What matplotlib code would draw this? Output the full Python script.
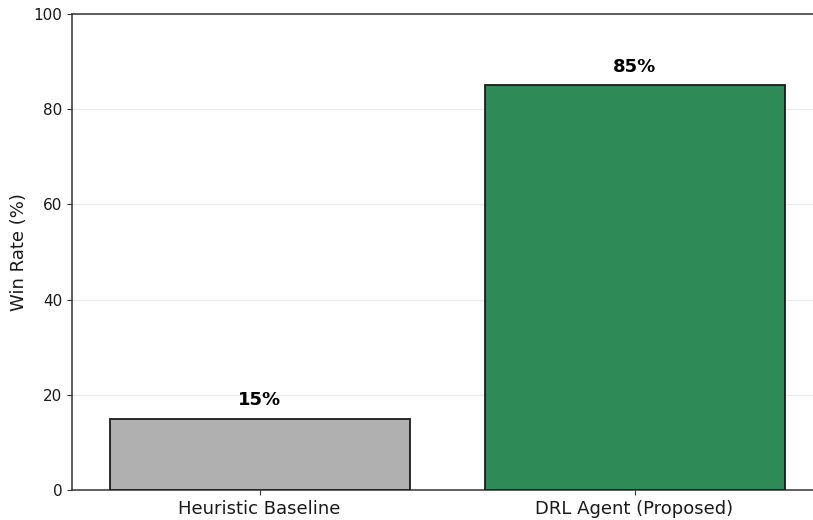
import matplotlib
matplotlib.use("Agg")
import matplotlib.pyplot as plt

categories = ["Heuristic Baseline", "DRL Agent (Proposed)"]
win_rates = [15, 85]
colors = ["#b0b0b0", "#2e8b57"]

W, H = 813, 520
fig = plt.figure(figsize=(W / 100, H / 100), dpi=100)
left, right, top, bottom = 72, 822, 14, 490
ax = fig.add_axes([left / W, 1 - bottom / H, (right - left) / W, (bottom - top) / H])

bars = ax.bar(categories, win_rates, width=0.8, color=colors, edgecolor="#1a1a1a", linewidth=1.3, zorder=3)
ax.set_xlim(-0.5, 1.5)
ax.set_ylim(0, 100)
ax.yaxis.grid(True, color="#ebebeb", linewidth=0.8, zorder=0)
ax.set_ylabel("Win Rate (%)", fontsize=13, color="#1a1a1a")
ax.tick_params(axis="both", labelsize=11, color="#333333", labelcolor="#1a1a1a")
ax.tick_params(axis="x", labelsize=13)
for s in ax.spines.values():
    s.set_color("#333333")
    s.set_linewidth(1.1)
for b, v in zip(bars, win_rates):
    ax.text(b.get_x() + b.get_width() / 2, v + 2, f"{v}%", ha="center", va="bottom",
            fontsize=13, fontweight="bold")

fig.savefig("out.png", dpi=100)
